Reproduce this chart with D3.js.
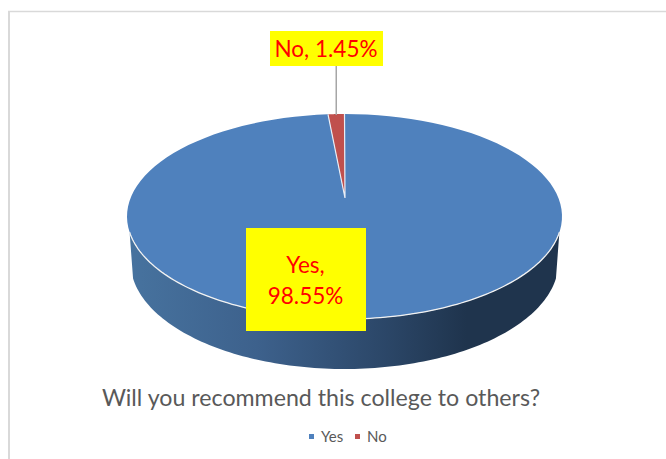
<!DOCTYPE html>
<html>
<head>
<meta charset="utf-8">
<script src="https://cdn.jsdelivr.net/npm/d3@7"></script>
<style>
  html, body { margin: 0; padding: 0; background: #fff; }
  svg { display: block; }
  text { font-family: Lato, "Open Sans", sans-serif; }
</style>
</head>
<body>
<div id="chart"></div>
<script>
const categories = ["Yes", "No"];
const shares = [98.55, 1.45];
const colors = ["#4f81bd", "#c0504d"];
const chartTitle = "Will you recommend this college to others?";

const width = 666, height = 459;

// top face of the pie, the apex sits above the ellipse middle because of the perspective
const face = { cx: 344.5, cy: 216.5, rx: 217.5, ry: 102.5 };
const apex = { x: 345, y: 198 };
// lower rim of the wall
const rim = { cx: 344.5, cy: 262, rx: 214, ry: 107 };
// perspective squeeze of the back of the pie
const squeeze = 0.833;

const svg = d3.select("#chart").append("svg")
    .attr("width", width)
    .attr("height", height);

// frame lines of the screenshot
svg.append("line").attr("x1", 8).attr("x2", width).attr("y1", 11.5).attr("y2", 11.5)
    .attr("stroke", "#d9d9d9").attr("stroke-width", 1.5);
svg.append("line").attr("x1", 9).attr("x2", 9).attr("y1", 11).attr("y2", height)
    .attr("stroke", "#d9d9d9").attr("stroke-width", 2);

const defs = svg.append("defs");
const wallGrad = defs.append("linearGradient").attr("id", "wall")
    .attr("gradientUnits", "userSpaceOnUse")
    .attr("x1", 127).attr("x2", 562).attr("y1", 0).attr("y2", 0);
[[0, "#47739f"], [0.3, "#3d618c"], [0.6, "#2b4667"], [0.78, "#1f344d"], [1, "#1f344d"]]
    .forEach(s => wallGrad.append("stop").attr("offset", s[0]).attr("stop-color", s[1]));

// clockwise from 12 o'clock, Yes first, No ends back at the top
const pie = d3.pie().sort(null).value(d => d);
const arcs = pie(shares);

// pie angle to ellipse angle under the perspective
const warp = a => 2 * Math.atan2(squeeze * Math.sin(a / 2), Math.cos(a / 2));
const onEllipse = (e, a) => [e.cx + e.rx * Math.sin(a), e.cy - e.ry * Math.cos(a)];
const line = d3.line();

function sweep(e, a0, a1) {
    return d3.range(0, 121).map(i => onEllipse(e, a0 + (a1 - a0) * i / 120));
}

// wall: front half of the top face, back along the lower rim
const wallStart = Math.PI * 0.5 + 0.155, wallEnd = Math.PI * 1.5 - 0.155;
const wallPts = sweep(face, wallStart, wallEnd)
    .concat(sweep(rim, wallEnd, wallStart));
svg.append("path")
    .attr("d", line(wallPts) + "Z")
    .attr("fill", "url(#wall)");

// top face slices
const g = svg.append("g");
const angleOf = a => {
    const w = warp(a);
    return w < 0 ? w + 2 * Math.PI : w;
};
g.selectAll("path")
    .data(arcs)
    .join("path")
    .attr("d", d => {
        const pts = [[apex.x, apex.y]].concat(sweep(face, angleOf(d.startAngle), angleOf(d.endAngle)));
        return line(pts) + "Z";
    })
    .attr("fill", (d, i) => colors[i])
    .attr("stroke", "none");

// white edge along the front and round the No slice
svg.append("path")
    .attr("d", line(sweep(face, wallStart, wallEnd)))
    .attr("fill", "none").attr("stroke", "#f2f2f2").attr("stroke-width", 1.3);
svg.append("path")
    .attr("d", line([onEllipse(face, angleOf(arcs[1].startAngle)), [apex.x, apex.y], onEllipse(face, angleOf(arcs[1].endAngle))]))
    .attr("fill", "none").attr("stroke", "#e8eef6").attr("stroke-width", 1.2);

// leader line for the No label
const noTop = onEllipse(face, angleOf((arcs[1].startAngle + arcs[1].endAngle) / 2));
svg.append("line")
    .attr("x1", noTop[0]).attr("x2", noTop[0])
    .attr("y1", 66).attr("y2", noTop[1] + 1)
    .attr("stroke", "#a6a6a6").attr("stroke-width", 1.5);

// data labels
const labels = [
    { lines: [`${categories[1]}, ${shares[1]}%`], x: 270, y: 31, w: 113, h: 35, base: [57] },
    { lines: [`${categories[0]},`, `${shares[0]}%`], x: 246, y: 228, w: 120, h: 103, base: [273, 304] }
];
labels.forEach(l => {
    svg.append("rect").attr("x", l.x).attr("y", l.y).attr("width", l.w).attr("height", l.h)
        .attr("fill", "#ffff00");
    l.lines.forEach((t, i) => {
        svg.append("text")
            .attr("x", l.x + l.w / 2 - 0.5).attr("y", l.base[i])
            .attr("text-anchor", "middle")
            .attr("font-size", 22.5)
            .attr("fill", "#ff0000")
            .text(t);
    });
});

// title
svg.append("text")
    .attr("x", 321).attr("y", 406)
    .attr("text-anchor", "middle")
    .attr("font-size", 23.2)
    .attr("fill", "#595959")
    .text(chartTitle);

// legend
const legendX = [309, 355];
const legend = svg.selectAll("g.legend").data(categories).join("g")
    .attr("class", "legend")
    .attr("transform", (d, i) => `translate(${legendX[i]},434)`);
legend.append("rect").attr("width", 5).attr("height", 5).attr("fill", (d, i) => colors[i]);
legend.append("text").attr("x", 12).attr("y", 8)
    .attr("font-size", 15).attr("fill", "#595959")
    .text(d => d);
</script>
</body>
</html>
